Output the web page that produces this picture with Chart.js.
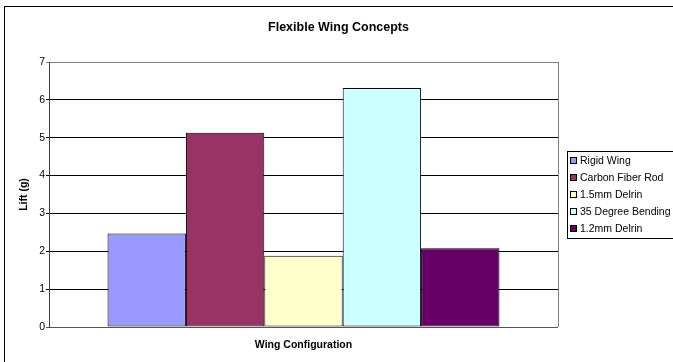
<!DOCTYPE html>
<html>
<head>
<meta charset="utf-8">
<script src="https://cdn.jsdelivr.net/npm/chart.js@4"></script>
<style>
  html, body { margin: 0; padding: 0; background: #fff; }
  #wrap { width: 673px; height: 362px; }
</style>
</head>
<body>
<div id="wrap"><canvas id="c" width="673" height="362"></canvas></div>
<script>
// Lift measured for each wing configuration
const categories = ['Rigid Wing', 'Carbon Fiber Rod', '1.5mm Delrin', '35 Degree Bending', '1.2mm Delrin'];
const liftValues = [2.47, 5.13, 1.88, 6.31, 2.08];
const barColors = ['#9999FF', '#993366', '#FFFFCC', '#CCFFFF', '#660066'];
const yTicks = [0, 1, 2, 3, 4, 5, 6, 7];

const FONT = '"Liberation Sans", Arial, sans-serif';

const datasets = categories.map((name, i) => ({
  label: name,
  data: [liftValues[i]],
  backgroundColor: barColors[i],
  borderColor: '#000',
  borderWidth: 1,
  borderSkipped: false,
  categoryPercentage: 0.77,
  barPercentage: 1.0
}));

// Outer frame, right plot edge and boxed legend
const framePlugin = {
  id: 'frame',
  afterDraw(chart) {
    const ctx = chart.ctx;
    const a = chart.chartArea;
    ctx.save();
    ctx.strokeStyle = '#000';
    ctx.lineWidth = 1;
    ctx.strokeRect(4.5, 6.5, 720, 400);

    ctx.strokeStyle = '#808080';
    ctx.beginPath();
    ctx.moveTo(Math.round(a.right) + 0.5, a.top);
    ctx.lineTo(Math.round(a.right) + 0.5, a.bottom);
    ctx.stroke();

    // legend box
    const lx = 567.5, ly = 151.5;
    ctx.fillStyle = '#fff';
    ctx.fillRect(lx, ly, 140, 87);
    ctx.strokeStyle = '#000';
    ctx.strokeRect(lx, ly, 140, 87);
    ctx.font = '10.5px ' + FONT;
    ctx.textBaseline = 'middle';
    chart.data.datasets.forEach((ds, i) => {
      const cy = 161 + i * 17.1;
      ctx.fillStyle = ds.backgroundColor;
      ctx.fillRect(570.5, Math.round(cy) - 3.5, 6, 6);
      ctx.strokeStyle = '#000';
      ctx.strokeRect(570.5, Math.round(cy) - 3.5, 6, 6);
      ctx.fillStyle = '#000';
      ctx.fillText(ds.label, 580, cy);
    });
    ctx.restore();
  }
};

new Chart(document.getElementById('c'), {
  type: 'bar',
  data: { labels: [''], datasets },
  options: {
    responsive: false,
    animation: false,
    layout: { padding: { left: 4, right: 0, top: 6, bottom: 0 } },
    plugins: {
      legend: { display: false },
      tooltip: { enabled: false },
      title: {
        display: true,
        text: 'Flexible Wing Concepts',
        color: '#000',
        font: { family: FONT, size: 12.5, weight: 'bold', lineHeight: 1.2 },
        padding: { top: 14, bottom: 27 }
      }
    },
    scales: {
      x: {
        grid: { display: false },
        border: { display: false },
        ticks: { display: false },
        title: {
          display: true,
          text: 'Wing Configuration',
          color: '#000',
          font: { family: FONT, size: 10.5, weight: 'bold', lineHeight: 1.2 },
          padding: { top: 0, bottom: 11 }
        },
        afterFit(s) { s.height = 35; }
      },
      y: {
        min: 0,
        max: 7,
        afterBuildTicks(s) { s.ticks = yTicks.map(v => ({ value: v })); },
        ticks: {
          color: '#000',
          padding: 1,
          font: { family: FONT, size: 10.5 }
        },
        grid: {
          color: c => (c.tick && c.tick.value === 7) ? '#808080' : (c.tick && c.tick.value === 0 ? '#555' : '#000'),
          lineWidth: 1,
          tickLength: 3,
          drawTicks: true
        },
        border: { display: true, color: '#404040', width: 1 },
        title: {
          display: true,
          text: 'Lift (g)',
          color: '#000',
          font: { family: FONT, size: 10.5, weight: 'bold', lineHeight: 1.2 },
          padding: { top: 14, bottom: 0 }
        },
        afterFit(s) { s.width = 45; }
      },
      // empty right-hand band reserved for the legend box
      side: {
        type: 'linear',
        position: 'right',
        display: true,
        grid: { display: false },
        border: { display: false },
        ticks: { display: false },
        afterFit(s) { s.width = 115; }
      }
    }
  },
  plugins: [framePlugin]
});
</script>
</body>
</html>
